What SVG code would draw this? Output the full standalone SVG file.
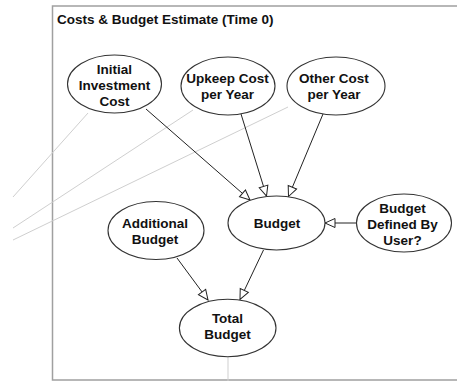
<svg xmlns="http://www.w3.org/2000/svg" width="457" height="381" viewBox="0 0 457 381">
  <style>
    .node ellipse { fill: #ffffff; stroke: #333333; stroke-width: 1.1; }
    .node text { font-family: "Liberation Sans", Arial, sans-serif; font-weight: bold; font-size: 13.5px; fill: #111111; text-anchor: middle; }
    .title { font-family: "Liberation Sans", Arial, sans-serif; font-weight: bold; font-size: 13.5px; fill: #111111; }
    .frame { fill: none; stroke: #a0a0a0; stroke-width: 1.5; }
    .link { fill: none; stroke: #222222; stroke-width: 1; marker-end: url(#arrow); }
    .ext { fill: none; stroke: #cfcfcf; stroke-width: 1; }
  </style>
  <defs>
    <marker id="arrow" markerUnits="userSpaceOnUse" markerWidth="12" markerHeight="12" viewBox="0 0 12 12" refX="11" refY="6" orient="auto">
      <path d="M1,1.5 L11,6 L1,10.5 Z" fill="#ffffff" stroke="#222222" stroke-width="1"/>
    </marker>
  </defs>
  <rect width="457" height="381" fill="#ffffff"/>
  <path class="frame" d="M457,6 H52.5 V380 H457"/>
  <text class="title" x="57" y="24">Costs &amp; Budget Estimate (Time 0)</text>

  <g id="connectors">
    <line class="ext" x1="88" y1="113" x2="13" y2="197"/>
    <line class="ext" x1="193" y1="110" x2="13" y2="228"/>
    <line class="ext" x1="288" y1="107" x2="13" y2="240"/>
    <line class="ext" x1="228" y1="357" x2="228" y2="381"/>
    <line class="link" x1="146" y1="109" x2="250" y2="200"/>
    <line class="link" x1="241" y1="114" x2="266.5" y2="196"/>
    <line class="link" x1="323" y1="114" x2="288.5" y2="196.5"/>
    <line class="link" x1="356.5" y1="223" x2="325" y2="223"/>
    <line class="link" x1="177" y1="258" x2="208" y2="300"/>
    <line class="link" x1="263.5" y1="250" x2="240" y2="299.5"/>
  </g>

  <g id="initial-investment-cost" class="node">
    <ellipse cx="114.5" cy="84" rx="47" ry="29"/>
    <text x="114.5" y="74">Initial</text>
    <text x="114.5" y="90">Investment</text>
    <text x="114.5" y="106">Cost</text>
  </g>
  <g id="upkeep-cost-per-year" class="node">
    <ellipse cx="228" cy="86" rx="47" ry="29"/>
    <text x="227.5" y="82.5">Upkeep Cost</text>
    <text x="227.5" y="99">per Year</text>
  </g>
  <g id="other-cost-per-year" class="node">
    <ellipse cx="336" cy="86" rx="49" ry="29"/>
    <text x="334" y="82.5">Other Cost</text>
    <text x="334" y="99">per Year</text>
  </g>
  <g id="budget" class="node">
    <ellipse cx="276.5" cy="223" rx="48.5" ry="27"/>
    <text x="277" y="228">Budget</text>
  </g>
  <g id="additional-budget" class="node">
    <ellipse cx="156" cy="230.5" rx="48" ry="29"/>
    <text x="155" y="228">Additional</text>
    <text x="155" y="244">Budget</text>
  </g>
  <g id="budget-defined-by-user" class="node">
    <ellipse cx="404" cy="223" rx="47.5" ry="29"/>
    <text x="402.5" y="213">Budget</text>
    <text x="402.5" y="229">Defined By</text>
    <text x="402.5" y="245">User?</text>
  </g>
  <g id="total-budget" class="node">
    <ellipse cx="227.7" cy="328" rx="48.3" ry="28.7"/>
    <text x="227.5" y="323">Total</text>
    <text x="227.5" y="339">Budget</text>
  </g>
</svg>
